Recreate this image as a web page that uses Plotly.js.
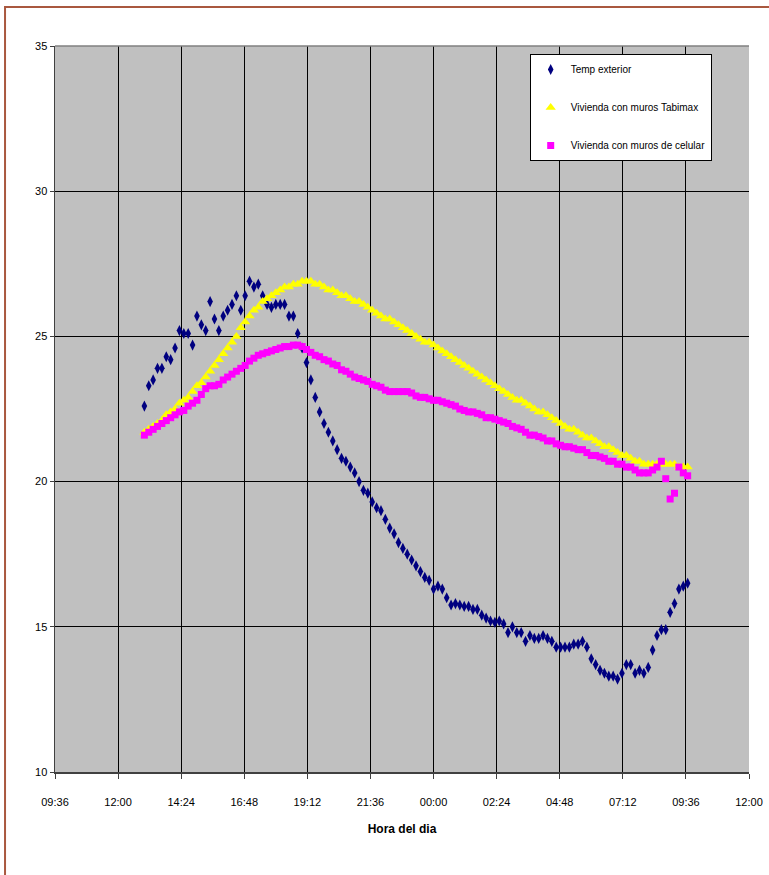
<!DOCTYPE html>
<html>
<head>
<meta charset="utf-8">
<script src="https://cdn.plot.ly/plotly-3.0.1.min.js"></script>
<style>
  html, body { margin: 0; padding: 0; background: #ffffff; }
  #chart { width: 769px; height: 875px; }
</style>
</head>
<body>
<div id="chart"></div>
<script>
// Logger readings, one every 10 minutes starting at 13:00
const startTime = [2000, 0, 1, 13, 0];
const stepMinutes = 10;

const seriesNames = ['Temp exterior', 'Vivienda con muros Tabimax', 'Vivienda con muros de celular'];

const tempExterior = [
  22.6, 23.3, 23.5, 23.9, 23.9, 24.3, 24.2, 24.6, 25.2, 25.1,
  25.1, 24.7, 25.7, 25.4, 25.2, 26.2, 25.6, 25.2, 25.7, 25.9,
  26.1, 26.4, 25.9, 26.4, 26.9, 26.7, 26.8, 26.4, 26.1, 26.0,
  26.1, 26.1, 26.1, 25.7, 25.7, 25.1, 24.6, 24.1, 23.5, 22.9,
  22.4, 22.0, 21.7, 21.4, 21.1, 20.8, 20.7, 20.5, 20.3, 20.0,
  19.7, 19.6, 19.3, 19.1, 19.0, 18.7, 18.4, 18.2, 17.9, 17.7,
  17.5, 17.3, 17.1, 16.9, 16.7, 16.6, 16.3, 16.4, 16.3, 16.0,
  15.75, 15.8, 15.75, 15.7, 15.7, 15.6, 15.6, 15.4, 15.3, 15.2,
  15.15, 15.2, 15.1, 14.8, 15.0, 14.8, 14.8, 14.5, 14.7, 14.6,
  14.6, 14.7, 14.6, 14.5, 14.3, 14.3, 14.3, 14.3, 14.4, 14.4,
  14.5, 14.3, 13.9, 13.7, 13.5, 13.4, 13.3, 13.3, 13.2, 13.4,
  13.7, 13.7, 13.4, 13.5, 13.4, 13.6, 14.2, 14.7, 14.9, 14.9,
  15.5, 15.8, 16.3, 16.4, 16.5
];

const muroTabimax = [
  21.7, 21.8, 21.9, 22.0, 22.1, 22.3, 22.4, 22.5, 22.7, 22.8,
  22.9, 23.1, 23.3, 23.4, 23.6, 23.8, 24.0, 24.2, 24.4, 24.6,
  24.8, 25.0, 25.3, 25.5, 25.7, 25.9, 26.0, 26.2, 26.3, 26.4,
  26.5, 26.6, 26.7, 26.7, 26.8, 26.8, 26.9, 26.9, 26.9, 26.8,
  26.8, 26.7, 26.6, 26.6, 26.5, 26.4, 26.4, 26.3, 26.2, 26.2,
  26.1, 26.0, 25.9, 25.8, 25.7, 25.6, 25.6, 25.5, 25.4, 25.3,
  25.2, 25.1, 25.0, 24.9, 24.8, 24.8, 24.7, 24.6, 24.5, 24.4,
  24.3, 24.2, 24.1, 24.0, 23.9, 23.8, 23.7, 23.6, 23.5, 23.4,
  23.3, 23.2, 23.1, 23.0, 22.9, 22.8, 22.8, 22.7, 22.6, 22.5,
  22.4, 22.4, 22.3, 22.2, 22.1, 22.0, 21.9, 21.8, 21.8, 21.7,
  21.6, 21.5, 21.5, 21.4, 21.3, 21.2, 21.2, 21.1, 21.0, 20.9,
  20.9, 20.8, 20.7, 20.7, 20.6, 20.6, 20.6, 20.6, 20.6, 20.6,
  20.6, 20.6, 20.5, 20.5, 20.5
];

const muroCelular = [
  21.6, 21.7, 21.8, 21.9, 22.0, 22.1, 22.2, 22.3, 22.4, 22.45,
  22.6, 22.7, 22.8, 23.0, 23.2, 23.3, 23.3, 23.35, 23.5, 23.6,
  23.7, 23.8, 23.9, 24.0, 24.15, 24.25, 24.35, 24.4, 24.45, 24.5,
  24.55, 24.6, 24.65, 24.65, 24.7, 24.7, 24.65, 24.55, 24.45, 24.35,
  24.3, 24.2, 24.15, 24.05, 24.0, 23.85, 23.8, 23.7, 23.6, 23.55,
  23.5, 23.45, 23.35, 23.3, 23.25, 23.15, 23.1, 23.1, 23.1, 23.1,
  23.1, 23.05, 22.95, 22.9, 22.9, 22.85, 22.8, 22.8, 22.75, 22.7,
  22.65, 22.6, 22.5, 22.45, 22.4, 22.4, 22.35, 22.3, 22.2, 22.2,
  22.15, 22.1, 22.05, 22.0, 21.9, 21.85, 21.8, 21.7, 21.6, 21.6,
  21.55, 21.5, 21.4, 21.4, 21.3, 21.25, 21.2, 21.2, 21.15, 21.1,
  21.1, 21.0, 20.9, 20.9, 20.85, 20.8, 20.7, 20.7, 20.6, 20.6,
  20.5, 20.5, 20.4, 20.3, 20.3, 20.3, 20.4, 20.5, 20.7, 20.1,
  19.4, 19.6, 20.5, 20.3, 20.2
];

// Build the time stamps for each reading
function pad(n) { return (n < 10 ? '0' : '') + n; }
function timeStamps(n) {
  const t0 = Date.UTC(startTime[0], startTime[1], startTime[2], startTime[3], startTime[4]);
  const out = [];
  for (let i = 0; i < n; i++) {
    const d = new Date(t0 + i * stepMinutes * 60000);
    out.push(d.getUTCFullYear() + '-' + pad(d.getUTCMonth() + 1) + '-' + pad(d.getUTCDate()) +
             ' ' + pad(d.getUTCHours()) + ':' + pad(d.getUTCMinutes()));
  }
  return out;
}
const times = timeStamps(tempExterior.length);

const FONT = '"Liberation Sans", Arial, sans-serif';

const traces = [
  { name: seriesNames[0], y: tempExterior, symbol: 'diamond-tall', size: 8, color: '#000080' },
  { name: seriesNames[1], y: muroTabimax, symbol: 'triangle-up', size: 9, color: '#FFFF00' },
  { name: seriesNames[2], y: muroCelular, symbol: 'square', size: 7, color: '#FF00FF' }
].map((s, k) => ({
  type: 'scatter',
  mode: 'markers',
  name: s.name,
  legendgroup: 'g' + k,
  x: times,
  y: s.y,
  marker: { symbol: s.symbol, size: s.size, color: s.color, line: { width: 0 } }
}));

const layout = {
  width: 769,
  height: 875,
  margin: { l: 55, r: 20, t: 46, b: 103 },
  paper_bgcolor: '#ffffff',
  plot_bgcolor: '#C0C0C0',
  font: { family: FONT, size: 11, color: '#000000' },
  showlegend: true,
  legend: {
    x: 0.684, y: 0.989, xanchor: 'left', yanchor: 'top',
    bgcolor: '#ffffff', bordercolor: '#000000', borderwidth: 1,
    font: { family: FONT, size: 10, color: '#000000' },
    tracegroupgap: 19,
    itemwidth: 30
  },
  xaxis: {
    type: 'date',
    range: ['2000-01-01 09:36', '2000-01-02 12:00'],
    tick0: '2000-01-01 09:36',
    dtick: 8640000,
    tickformat: '%H:%M',
    showgrid: true, gridcolor: '#000000', gridwidth: 1,
    showline: true, linecolor: '#404040', linewidth: 1.5,
    ticks: 'outside', ticklen: 5, tickcolor: '#404040',
    ticklabelstandoff: 14,
    zeroline: false,
    title: { text: 'Hora del dia', font: { family: FONT, size: 12, weight: 'bold', color: '#000000' }, standoff: 18 }
  },
  yaxis: {
    range: [10, 35],
    tick0: 10, dtick: 5,
    showgrid: true, gridcolor: '#000000', gridwidth: 1,
    showline: true, linecolor: '#404040', linewidth: 1.5,
    ticks: 'outside', ticklen: 4, tickcolor: '#404040',
    zeroline: false
  },
  shapes: [
    // grey top edge of the plot area
    { type: 'line', xref: 'paper', yref: 'paper', x0: 0, x1: 1, y0: 1, y1: 1,
      line: { color: '#808080', width: 1.5 }, layer: 'above' },
    // chart frame
    { type: 'rect', xref: 'paper', yref: 'paper',
      x0: -0.072, x1: 1.06, y0: -0.16, y1: 1.0537,
      line: { color: '#A9583F', width: 2 }, fillcolor: 'rgba(0,0,0,0)', layer: 'below' }
  ]
};

Plotly.newPlot('chart', traces, layout, { displayModeBar: false, staticPlot: true });
</script>
</body>
</html>
